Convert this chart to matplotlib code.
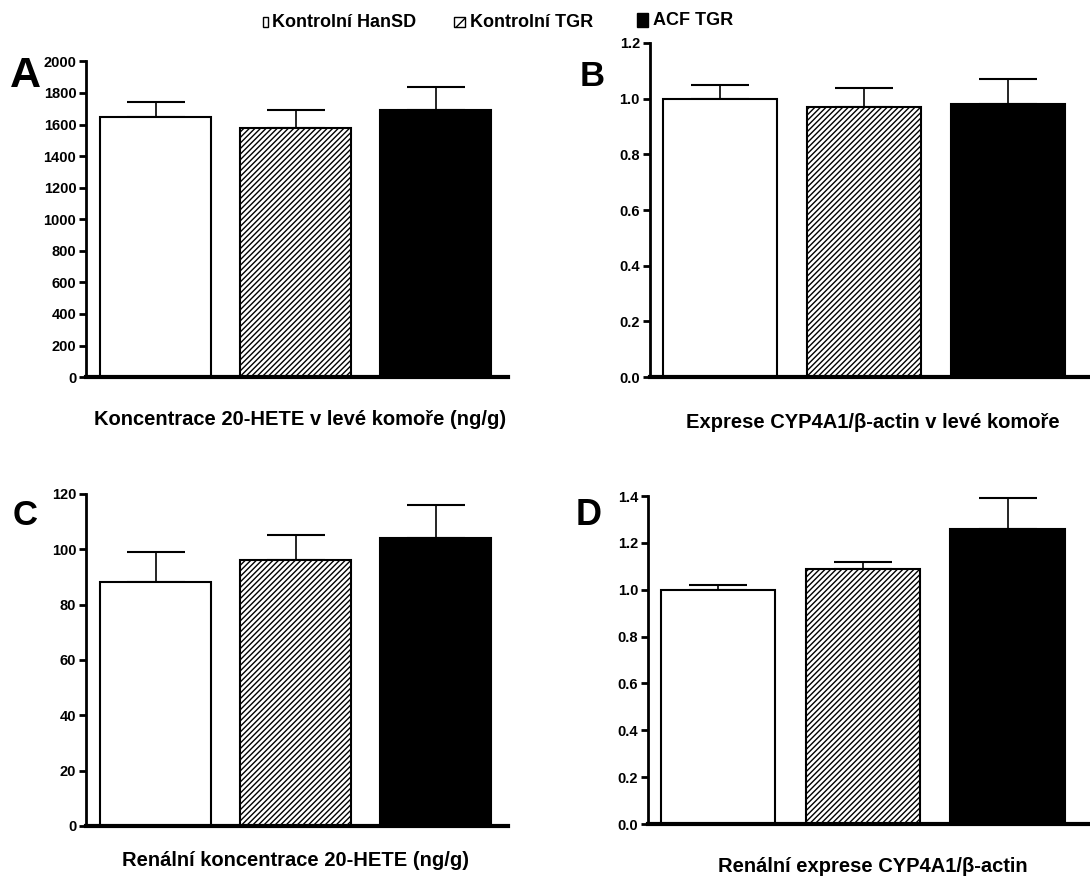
import matplotlib.pyplot as plt
from matplotlib.patches import Rectangle

plt.rcParams['font.family'] = ['Liberation Sans', 'DejaVu Sans']
plt.rcParams['font.weight'] = 'bold'
plt.rcParams['hatch.linewidth'] = 1.0

# data
skupiny = ['Kontrolní HanSD', 'Kontrolní TGR', 'ACF TGR']

a_hodnoty = [1645, 1580, 1695]
a_chyby = [95, 115, 140]
b_hodnoty = [1.00, 0.97, 0.98]
b_chyby = [0.05, 0.07, 0.09]
c_hodnoty = [88, 96, 104]
c_chyby = [11, 9, 12]
d_hodnoty = [1.00, 1.09, 1.26]
d_chyby = [0.02, 0.03, 0.13]

popisky = ['Koncentrace 20-HETE v levé komoře (ng/g)',
           'Exprese CYP4A1/β-actin v levé komoře',
           'Renální koncentrace 20-HETE (ng/g)',
           'Renální exprese CYP4A1/β-actin']
pismena = ['A', 'B', 'C', 'D']

barvy = ['white', 'white', 'black']
srafy = ['', '//////', '']

fig = plt.figure(figsize=(10.9, 8.77), dpi=100)

# [left, bottom, width, height], ylim, yticks, xlim
panely = [
    ([0.0789, 0.570, 0.387, 0.360], (0, 2000), range(0, 2001, 200), (-0.496, 2.514), a_hodnoty, a_chyby, '%d'),
    ([0.596, 0.570, 0.404, 0.381], (0, 1.2), [0, 0.2, 0.4, 0.6, 0.8, 1.0, 1.2], (-0.486, 2.57), b_hodnoty, b_chyby, '%.1f'),
    ([0.0789, 0.0582, 0.387, 0.3786], (0, 120), range(0, 121, 20), (-0.496, 2.514), c_hodnoty, c_chyby, '%d'),
    ([0.5945, 0.0604, 0.4055, 0.374], (0, 1.4), [0, 0.2, 0.4, 0.6, 0.8, 1.0, 1.2, 1.4], (-0.486, 2.57), d_hodnoty, d_chyby, '%.1f'),
]

pozice_popisku = [(0.275, 0.522), (0.801, 0.518), (0.271, 0.019), (0.801, 0.012)]
pozice_pismen = [(0.0229, 0.9008), (0.543, 0.902), (0.0229, 0.4014), (0.540, 0.401)]
velikost_pismen = [31, 25, 25, 26]

for i, (rect, ylim, yticks, xlim, hodnoty, chyby, fmt) in enumerate(panely):
    ax = fig.add_axes(rect)
    x = range(len(hodnoty))
    ax.bar(x, hodnoty, width=0.79, color=barvy, edgecolor='black',
           linewidth=1.5, zorder=2)
    for j, p in enumerate(ax.patches):
        p.set_hatch(srafy[j])
    ax.errorbar(x, hodnoty, yerr=[[0] * 3, chyby], fmt='none', ecolor='black',
                elinewidth=1.2, capsize=21, capthick=1.5, zorder=1)
    ax.set_ylim(*ylim)
    ax.set_xlim(*xlim)
    ax.set_yticks(list(yticks))
    ax.set_yticklabels([fmt % v for v in yticks], fontsize=10.5, fontweight='bold')
    ax.set_xticks([])
    ax.spines['top'].set_visible(False)
    ax.spines['right'].set_visible(False)
    ax.spines['left'].set_linewidth(2)
    ax.spines['bottom'].set_linewidth(3)
    ax.tick_params(axis='y', direction='out', length=5, width=2, pad=2)
    fig.text(pozice_popisku[i][0], pozice_popisku[i][1], popisky[i],
             ha='center', va='center', fontsize=14.5, fontweight='bold')
    fig.text(pozice_pismen[i][0], pozice_pismen[i][1], pismena[i],
             ha='center', va='baseline', fontsize=velikost_pismen[i], fontweight='bold')

# legenda nahore
box_x = [0.2413, 0.4165, 0.5844]
box_w = [0.0046, 0.0101, 0.0101]
box_h = [0.0114, 0.0114, 0.016]
text_x = [0.2495, 0.4312, 0.599]
text_y = [0.9692, 0.9692, 0.9715]
for k in range(3):
    fig.patches.append(Rectangle((box_x[k], 0.9692), box_w[k], box_h[k],
                                 transform=fig.transFigure, facecolor=barvy[k],
                                 edgecolor='black', linewidth=1, hatch=srafy[k][:2]))
    fig.text(text_x[k], text_y[k], skupiny[k], ha='left', va='baseline',
             fontsize=13, fontweight='bold')

fig.savefig('out.png', dpi=100)
